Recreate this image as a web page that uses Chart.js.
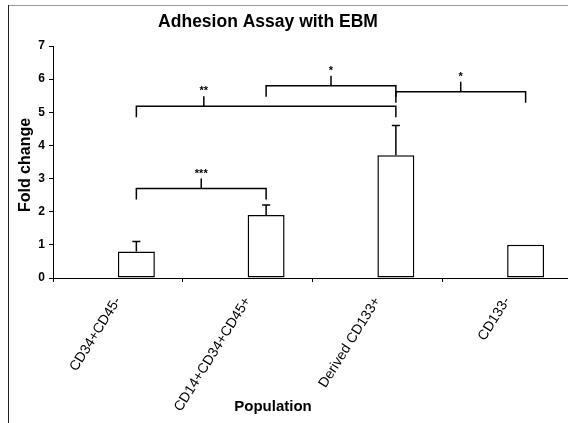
<!DOCTYPE html>
<html>
<head>
<meta charset="utf-8">
<script src="https://cdn.jsdelivr.net/npm/chart.js@4/dist/chart.umd.min.js"></script>
<style>
  html, body { margin: 0; padding: 0; background: #fff; overflow: hidden; }
  #wrap { width: 572px; height: 423px; }
</style>
</head>
<body>
<div id="wrap"><canvas id="chart" width="572" height="423"></canvas></div>
<script>
const populations = ["CD34+CD45-", "CD14+CD34+CD45+", "Derived CD133+", "CD133-"];
const foldChange = [0.8, 1.9, 3.7, 1.0];
const foldError = [0.3, 0.3, 0.9, 0];
const emptySeries = [null, null, null, null];

// significance brackets: bar index from/to, height (fold change), label
const bracketFrom = [0, 0, 1, 2];
const bracketTo = [1, 2, 2, 3];
const bracketLevel = [2.7, 5.18, 5.8, 5.62];
const bracketTickAt = [0.5, 0.26, 0.5, 0.5];
const bracketLabel = ["***", "**", "*", "*"];

const FONT = "'Liberation Sans', Arial, sans-serif";

const extras = {
  id: 'extras',
  afterDatasetsDraw(chart) {
    const ctx = chart.ctx;
    const meta = chart.getDatasetMeta(1);
    const y = chart.scales.y;
    ctx.save();
    ctx.strokeStyle = '#000';
    ctx.lineWidth = 1.5;

    // error bars (upper only)
    foldError.forEach((e, i) => {
      if (!e) return;
      const x = meta.data[i].x;
      const y0 = y.getPixelForValue(foldChange[i]);
      const y1 = y.getPixelForValue(foldChange[i] + e);
      ctx.beginPath();
      ctx.moveTo(x, y0); ctx.lineTo(x, y1);
      ctx.moveTo(x - 4, y1); ctx.lineTo(x + 4, y1);
      ctx.stroke();
    });

    // brackets
    ctx.fillStyle = '#000';
    ctx.font = 'bold 11px ' + FONT;
    ctx.textAlign = 'center';
    ctx.textBaseline = 'middle';
    bracketFrom.forEach((f, k) => {
      const xa = meta.data[f].x;
      const xb = meta.data[bracketTo[k]].x;
      const yb = y.getPixelForValue(bracketLevel[k]);
      const xm = xa + (xb - xa) * bracketTickAt[k];
      ctx.beginPath();
      ctx.moveTo(xa, yb + 11); ctx.lineTo(xa, yb);
      ctx.lineTo(xb, yb); ctx.lineTo(xb, yb + 11);
      ctx.moveTo(xm, yb); ctx.lineTo(xm, yb - 10);
      ctx.stroke();
      ctx.fillText(bracketLabel[k], xm, yb - 15);
    });
    ctx.restore();
  },
  afterDraw(chart) {
    const ctx = chart.ctx;
    ctx.save();
    // frame
    ctx.strokeStyle = '#999';
    ctx.lineWidth = 1;
    ctx.beginPath();
    ctx.moveTo(8, 5.5); ctx.lineTo(572, 5.5);
    ctx.stroke();
    ctx.strokeStyle = '#222';
    ctx.beginPath();
    ctx.moveTo(8.5, 5); ctx.lineTo(8.5, 423);
    ctx.stroke();

    ctx.fillStyle = '#000';
    ctx.textAlign = 'center';
    ctx.textBaseline = 'middle';
    ctx.font = 'bold 17.5px ' + FONT;
    ctx.fillText('Adhesion Assay with EBM', 268, 22);
    ctx.font = 'bold 15px ' + FONT;
    ctx.fillText('Population', 273, 407);
    ctx.translate(26, 165);
    ctx.rotate(-Math.PI / 2);
    ctx.font = 'bold 16px ' + FONT;
    ctx.fillText('Fold change', 0, 0);
    ctx.restore();
  }
};

new Chart(document.getElementById('chart'), {
  type: 'bar',
  data: {
    labels: populations,
    datasets: [
      {
        label: 'blank',
        data: emptySeries
      },
      {
        label: 'Fold change',
        data: foldChange,
        backgroundColor: '#fff',
        borderColor: '#000',
        borderWidth: 1.5,
        borderSkipped: false
      }
    ]
  },
  options: {
    responsive: false,
    animation: false,
    events: [],
    layout: { padding: { top: 46, left: 0, right: 0, bottom: 0 } },
    categoryPercentage: 0.57,
    barPercentage: 1,
    plugins: {
      legend: { display: false },
      tooltip: { enabled: false }
    },
    scales: {
      x: {
        afterFit(scale) { scale.height = 145; },
        grid: {
          drawOnChartArea: false,
          tickLength: 4,
          color: '#000'
        },
        border: { color: '#000', width: 1 },
        ticks: {
          minRotation: 58,
          maxRotation: 58,
          padding: 12,
          color: '#000',
          font: { family: FONT, size: 14 }
        }
      },
      y: {
        min: 0,
        max: 7,
        afterFit(scale) { scale.width = 53; },
        grid: {
          drawOnChartArea: false,
          tickLength: 4,
          color: '#000'
        },
        border: { color: '#000', width: 1 },
        ticks: {
          stepSize: 1,
          padding: 4,
          color: '#000',
          font: { family: FONT, size: 12, weight: 'bold' }
        }
      }
    }
  },
  plugins: [extras]
});
</script>
</body>
</html>
